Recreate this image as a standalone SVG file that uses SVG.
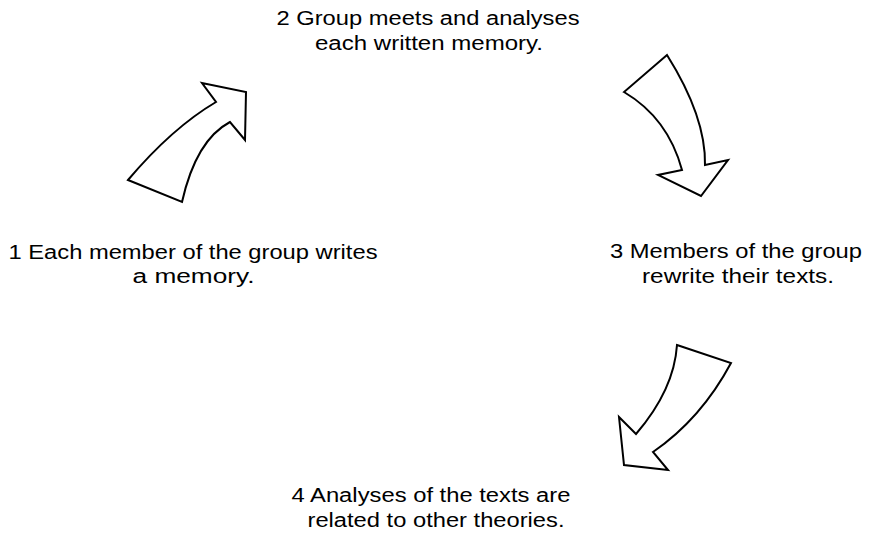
<svg xmlns="http://www.w3.org/2000/svg" width="871" height="535" viewBox="0 0 871 535">
<style>
.lbl{font-family:"Liberation Sans",Arial,Helvetica,sans-serif;font-size:20px;fill:#000;text-anchor:middle}
.arr{fill:#fff;stroke:#000;stroke-width:2;stroke-linejoin:miter}
</style>
<rect width="871" height="535" fill="#fff"/>
<g id="step1"><text class="lbl" x="193" y="259" textLength="369" lengthAdjust="spacingAndGlyphs">1 Each member of the group writes</text><text class="lbl" x="193.5" y="283" textLength="122" lengthAdjust="spacingAndGlyphs">a memory.</text></g>
<g id="step2"><text class="lbl" x="428" y="25" textLength="303" lengthAdjust="spacingAndGlyphs">2 Group meets and analyses</text><text class="lbl" x="429" y="50" textLength="228" lengthAdjust="spacingAndGlyphs">each written memory.</text></g>
<g id="step3"><text class="lbl" x="736" y="258" textLength="252" lengthAdjust="spacingAndGlyphs">3 Members of the group</text><text class="lbl" x="738" y="283" textLength="192" lengthAdjust="spacingAndGlyphs">rewrite their texts.</text></g>
<g id="step4"><text class="lbl" x="431" y="502" textLength="279" lengthAdjust="spacingAndGlyphs">4 Analyses of the texts are</text><text class="lbl" x="436" y="527" textLength="257" lengthAdjust="spacingAndGlyphs">related to other theories.</text></g>
<g id="connectors">
<path class="arr" d="M128,180 L182,202 Q196,140 230,122 L245,140 L246,92 L202,83 L216,102 Q172,128 128,180 Z"/>
<path class="arr" d="M667,55 L624,92 Q668,118 682,170 L658,175 L701,196 L728,160 L705,165 Q706,117 667,55 Z"/>
<path class="arr" d="M677,345 L731,363 Q701,419 653,452 L668,470 L624,465 L619,417 L636,434 Q674,390 677,345 Z"/>
</g>
</svg>
